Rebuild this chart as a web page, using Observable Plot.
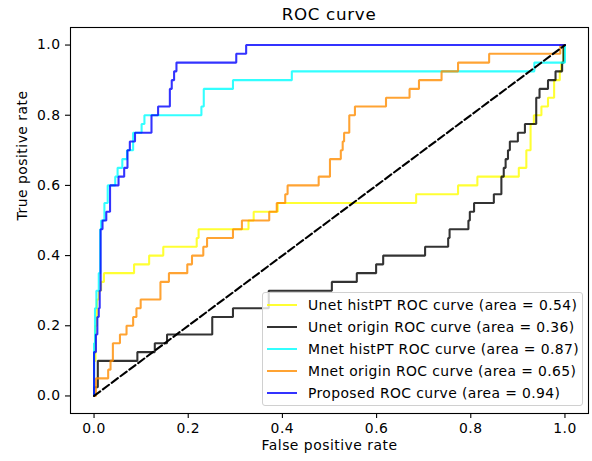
<!DOCTYPE html>
<html><head><meta charset="utf-8">
<script src="https://cdn.jsdelivr.net/npm/d3@7"></script>
<script src="https://cdn.jsdelivr.net/npm/@observablehq/plot@0.6"></script>
<style>
body{margin:0;background:#fff;font-family:"DejaVu Sans",sans-serif;color:#000;}
#wrap{position:relative;width:592px;height:461px;overflow:hidden;background:#fff;}
#title{height:20px;padding-top:4px;line-height:20px;font-size:16.7px;letter-spacing:0.7px;text-align:center;margin-left:70px;width:518px;}
#legend{position:absolute;left:262px;top:292px;width:321px;height:114px;box-sizing:border-box;border:1px solid #d0d0d0;border-radius:3px;background:rgba(255,255,255,0.8);padding:1px 0;font-size:13.9px;letter-spacing:0.4px;}
.row{position:relative;height:22px;white-space:nowrap;}
.sw{position:absolute;left:4px;top:10px;width:30px;height:0;border-top:2.08px solid;}
.lt{position:absolute;left:45px;top:0;line-height:22px;}
</style></head>
<body>
<div id="wrap">
<div id="title">ROC curve</div>
<div id="chart"></div>
<div id="legend"></div>
</div>
<script>
// ---- data ----
const seriesNames = ["Unet histPT", "Unet origin", "Mnet histPT", "Mnet origin", "Proposed"];
const seriesAreas = ["0.54", "0.36", "0.87", "0.65", "0.94"];
const seriesColors = ["#ffff00", "#000000", "#00ffff", "#ff8c00", "#0000ff"];

const unetHistFpr = [0,0,0.003,0.003,0.006,0.006,0.01,0.01,0.015,0.015,0.021,0.021,0.085,0.085,0.117,0.117,0.147,0.147,0.218,0.218,0.222,0.222,0.328,0.328,0.339,0.339,0.39,0.39,0.684,0.684,0.773,0.773,0.814,0.814,0.902,0.902,0.918,0.918,0.927,0.927,0.934,0.934,0.95,0.95,0.964,0.964,0.977,0.977,0.989,0.989,0.992,0.992,0.997,0.997,1];
const unetHistTpr = [0,0.1,0.1,0.2,0.2,0.275,0.275,0.3,0.3,0.325,0.325,0.35,0.35,0.375,0.375,0.4,0.4,0.425,0.425,0.45,0.45,0.475,0.475,0.5,0.5,0.525,0.525,0.55,0.55,0.575,0.575,0.6,0.6,0.625,0.625,0.65,0.65,0.7,0.7,0.775,0.775,0.8,0.8,0.825,0.825,0.85,0.85,0.9,0.9,0.925,0.925,0.95,0.95,1,1];

const unetOrigFpr = [0,0,0.008,0.008,0.092,0.092,0.129,0.129,0.155,0.155,0.251,0.251,0.295,0.295,0.371,0.371,0.505,0.505,0.558,0.558,0.599,0.599,0.614,0.614,0.703,0.703,0.752,0.752,0.755,0.755,0.795,0.795,0.798,0.798,0.807,0.807,0.849,0.849,0.865,0.865,0.87,0.87,0.874,0.874,0.879,0.879,0.883,0.883,0.9,0.9,0.915,0.915,0.939,0.939,0.946,0.946,0.964,0.964,0.98,0.98,0.994,0.994,0.997,0.997,1];
const unetOrigTpr = [0,0.025,0.025,0.1,0.1,0.125,0.125,0.15,0.15,0.175,0.175,0.225,0.225,0.25,0.25,0.3,0.3,0.325,0.325,0.35,0.35,0.375,0.375,0.4,0.4,0.425,0.425,0.45,0.45,0.475,0.475,0.5,0.5,0.525,0.525,0.55,0.55,0.575,0.575,0.625,0.625,0.65,0.65,0.675,0.675,0.7,0.7,0.725,0.725,0.75,0.75,0.775,0.775,0.85,0.85,0.875,0.875,0.9,0.9,0.925,0.925,0.95,0.95,1,1];

const mnetHistFpr = [0,0,0.002,0.002,0.005,0.005,0.01,0.01,0.013,0.013,0.015,0.015,0.022,0.022,0.029,0.029,0.045,0.045,0.05,0.05,0.06,0.06,0.07,0.07,0.083,0.083,0.101,0.101,0.107,0.107,0.228,0.228,0.233,0.233,0.295,0.295,0.42,0.42,0.935,0.935,1,1];
const mnetHistTpr = [0,0.15,0.15,0.25,0.25,0.3,0.3,0.35,0.35,0.475,0.475,0.5,0.5,0.55,0.55,0.6,0.6,0.625,0.625,0.65,0.65,0.675,0.675,0.7,0.7,0.75,0.75,0.775,0.775,0.8,0.8,0.825,0.825,0.875,0.875,0.9,0.9,0.925,0.925,0.95,0.95,1];

const mnetOrigFpr = [0,0.004,0.004,0.03,0.03,0.035,0.035,0.04,0.04,0.055,0.055,0.069,0.069,0.083,0.083,0.09,0.09,0.099,0.099,0.141,0.141,0.159,0.159,0.198,0.198,0.208,0.208,0.232,0.232,0.24,0.24,0.295,0.295,0.314,0.314,0.372,0.372,0.388,0.388,0.406,0.406,0.411,0.411,0.477,0.477,0.501,0.501,0.524,0.524,0.528,0.528,0.531,0.531,0.542,0.542,0.554,0.554,0.62,0.62,0.67,0.67,0.69,0.69,0.738,0.738,0.773,0.773,0.839,0.839,0.99,0.99,1];
const mnetOrigTpr = [0,0,0.05,0.05,0.075,0.075,0.1,0.1,0.15,0.15,0.175,0.175,0.2,0.2,0.225,0.225,0.25,0.25,0.275,0.275,0.325,0.325,0.35,0.35,0.375,0.375,0.4,0.4,0.425,0.425,0.45,0.45,0.475,0.475,0.5,0.5,0.525,0.525,0.55,0.55,0.575,0.575,0.6,0.6,0.625,0.625,0.675,0.675,0.7,0.7,0.725,0.725,0.75,0.75,0.8,0.8,0.825,0.825,0.85,0.85,0.875,0.875,0.9,0.9,0.925,0.925,0.95,0.95,0.975,0.975,1,1];

const proposedFpr = [0,0,0.004,0.004,0.007,0.007,0.01,0.01,0.012,0.012,0.014,0.014,0.018,0.018,0.026,0.026,0.034,0.034,0.052,0.052,0.064,0.064,0.071,0.071,0.076,0.076,0.087,0.087,0.122,0.122,0.136,0.136,0.161,0.161,0.165,0.165,0.17,0.17,0.175,0.175,0.302,0.302,0.323,0.323,1];
const proposedTpr = [0,0.125,0.125,0.175,0.175,0.225,0.225,0.25,0.25,0.3,0.3,0.475,0.475,0.5,0.5,0.525,0.525,0.6,0.6,0.625,0.625,0.65,0.65,0.7,0.7,0.725,0.725,0.75,0.75,0.8,0.8,0.825,0.825,0.875,0.875,0.9,0.9,0.925,0.925,0.95,0.95,0.975,0.975,1,1];

const chanceFpr = [0, 1];
const chanceTpr = [0, 1];

const xTicks = [0, 0.2, 0.4, 0.6, 0.8, 1.0];
const yTicks = [0, 0.2, 0.4, 0.6, 0.8, 1.0];
const xLabel = "False positive rate";
const yLabel = "True positive rate";

// ---- build table ----
const fprs = [unetHistFpr, unetOrigFpr, mnetHistFpr, mnetOrigFpr, proposedFpr];
const tprs = [unetHistTpr, unetOrigTpr, mnetHistTpr, mnetOrigTpr, proposedTpr];
const rows = [];
seriesNames.forEach((name, i) => {
  fprs[i].forEach((f, j) => rows.push({series: name, fpr: f, tpr: tprs[i][j]}));
});
const chance = chanceFpr.map((f, j) => ({fpr: f, tpr: chanceTpr[j]}));

const chart = Plot.plot({
  width: 592,
  height: 437,
  marginTop: 3,
  marginBottom: 48,
  marginLeft: 70,
  marginRight: 4,
  x: {domain: [-0.05, 1.05]},
  y: {domain: [-0.05, 1.05]},
  color: {domain: seriesNames, range: seriesColors},
  style: {fontFamily: "DejaVu Sans", fontSize: "13.9px", background: "white", color: "black", letterSpacing: "0.5px"},
  marks: [
    Plot.axisX({ticks: xTicks, tickFormat: d => d.toFixed(1), tickSize: 5, tickPadding: 5, label: null, strokeWidth: 1.1}),
    Plot.axisY({ticks: yTicks, tickFormat: d => d.toFixed(1), tickSize: 5, tickPadding: 5, label: null, strokeWidth: 1.1}),
    Plot.line(rows, {x: "fpr", y: "tpr", z: "series", stroke: "series", strokeWidth: 2.08, strokeOpacity: 0.8, strokeLinejoin: "miter"}),
    Plot.line(chance, {x: "fpr", y: "tpr", stroke: "black", strokeWidth: 2.08, strokeDasharray: "7.7,3.3"}),
    Plot.frame({stroke: "black", strokeWidth: 1.1}),
    Plot.text([xLabel], {frameAnchor: "bottom", dy: 36, fontSize: 13.9}),
    Plot.text([yLabel], {frameAnchor: "left", dx: -48, rotate: -90, fontSize: 13.9})
  ]
});
document.getElementById("chart").appendChild(chart);

const legend = document.getElementById("legend");
seriesNames.forEach((name, i) => {
  const row = document.createElement("div");
  row.className = "row";
  const sw = document.createElement("span");
  sw.className = "sw";
  sw.style.borderTopColor = seriesColors[i];
  sw.style.opacity = 0.8;
  const t = document.createElement("span");
  t.className = "lt";
  t.textContent = `${name} ROC curve (area = ${seriesAreas[i]})`;
  row.appendChild(sw);
  row.appendChild(t);
  legend.appendChild(row);
});
</script>
</body></html>
